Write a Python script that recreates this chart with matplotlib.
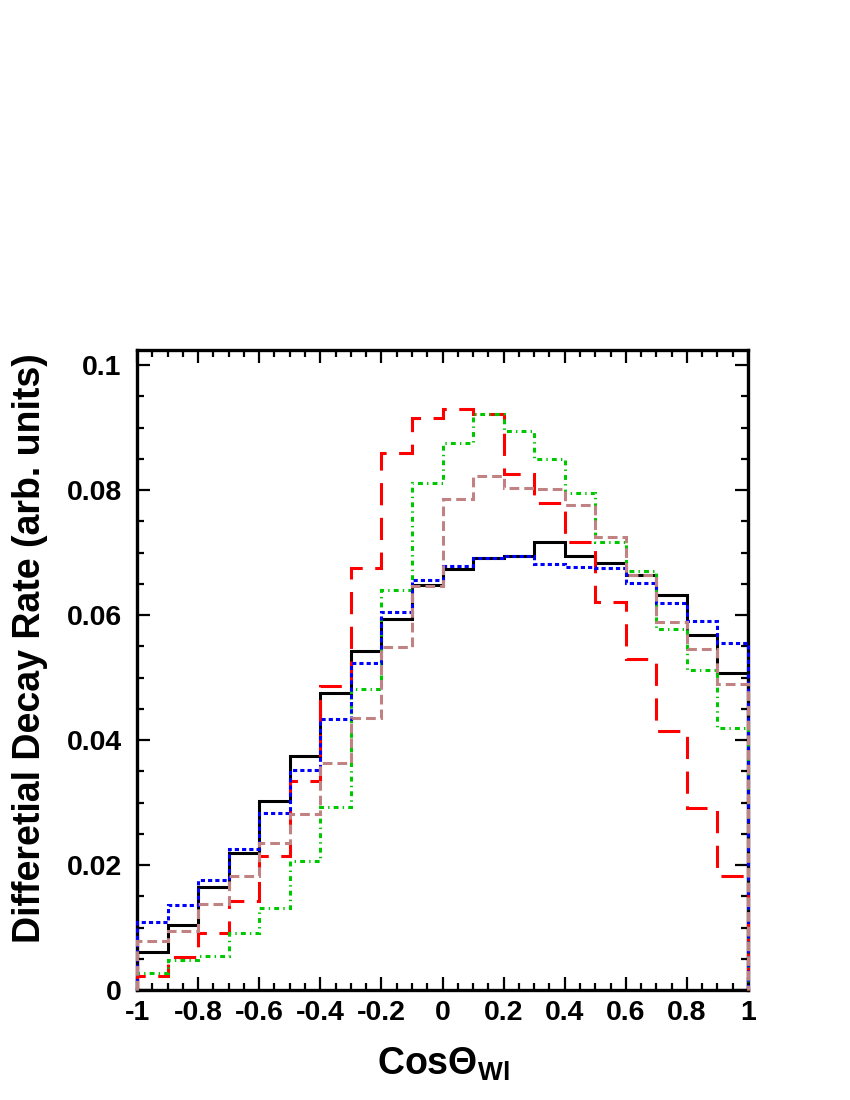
import numpy as np
import matplotlib
matplotlib.use("Agg")
import matplotlib.pyplot as plt
from matplotlib.ticker import MultipleLocator, FuncFormatter

plt.rcParams['font.family'] = ['Liberation Sans', 'DejaVu Sans']
plt.rcParams['font.weight'] = 'bold'
plt.rcParams['axes.unicode_minus'] = False
plt.rcParams['lines.scale_dashes'] = False
plt.rcParams['mathtext.fontset'] = 'custom'
plt.rcParams['mathtext.rm'] = 'Liberation Sans:bold'
plt.rcParams['mathtext.it'] = 'Liberation Sans:bold'
plt.rcParams['mathtext.bf'] = 'Liberation Sans:bold'

# bin edges of cos(theta)
bin_edges = np.linspace(-1.0, 1.0, 21)

black_vals = [0.0061, 0.0104, 0.0165, 0.0219, 0.0302, 0.0374, 0.0475, 0.0543, 0.0593, 0.0648,
              0.0674, 0.0691, 0.0695, 0.0717, 0.0694, 0.0683, 0.0664, 0.0632, 0.0568, 0.0507]
blue_vals = [0.0109, 0.0136, 0.0176, 0.0225, 0.0284, 0.0352, 0.0433, 0.0523, 0.0605, 0.0656,
             0.0679, 0.0691, 0.0695, 0.0681, 0.0677, 0.0675, 0.0651, 0.0620, 0.0591, 0.0555]
red_vals = [0.0022, 0.0053, 0.0092, 0.0142, 0.0215, 0.0335, 0.0486, 0.0676, 0.0859, 0.0915,
            0.0929, 0.0921, 0.0825, 0.0779, 0.0717, 0.0621, 0.0530, 0.0415, 0.0292, 0.0183]
green_vals = [0.0027, 0.0048, 0.0054, 0.0092, 0.0132, 0.0206, 0.0293, 0.0482, 0.0640, 0.0812,
              0.0876, 0.0921, 0.0895, 0.0849, 0.0796, 0.0717, 0.0671, 0.0577, 0.0512, 0.0419]
brown_vals = [0.0078, 0.0095, 0.0138, 0.0182, 0.0236, 0.0281, 0.0364, 0.0436, 0.0549, 0.0647,
              0.0786, 0.0823, 0.0804, 0.0802, 0.0776, 0.0725, 0.0664, 0.0589, 0.0545, 0.0490]

fig = plt.figure(figsize=(8.5, 11), dpi=100)
ax = fig.add_axes([137/850, 1-990/1100, (748-137)/850, (990-350)/1100])

lw = 2.2
common = dict(baseline=0, lw=lw, clip_on=False, zorder=3)
ax.stairs(black_vals, bin_edges, color='black', linestyle='-', **common)
ax.stairs(red_vals, bin_edges, color='#ff0000', linestyle=(0, (16, 9)), **common)
ax.stairs(green_vals, bin_edges, color='#00c800', linestyle=(0, (3.5, 3, 1, 3)), **common)
ax.stairs(blue_vals, bin_edges, color='#0000ff', linestyle=(0, (3, 2.2)), **common)
ax.stairs(brown_vals, bin_edges, color='#c08282', linestyle=(0, (7, 3.6)), **common)

ax.set_xlim(-1, 1)
ax.set_ylim(0, 0.1024)

ax.xaxis.set_major_locator(MultipleLocator(0.2))
ax.xaxis.set_minor_locator(MultipleLocator(0.05))
ax.yaxis.set_major_locator(MultipleLocator(0.02))
ax.yaxis.set_minor_locator(MultipleLocator(0.005))

fmt = FuncFormatter(lambda v, p: ('%g' % round(v, 4)))
ax.xaxis.set_major_formatter(fmt)
ax.yaxis.set_major_formatter(fmt)

ax.tick_params(which='both', direction='in', top=True, right=True, width=1.6)
ax.tick_params(which='major', length=9.5)
ax.tick_params(which='minor', length=5)
ax.tick_params(axis='x', which='major', pad=7, labelsize=20.5)
ax.tick_params(axis='y', which='major', pad=11, labelsize=20.5)
for lab in ax.get_xticklabels() + ax.get_yticklabels():
    lab.set_fontweight('bold')

for s in ax.spines.values():
    s.set_linewidth(2.4)

fig.text(30/850, 1-648/1100, 'Differetial Decay Rate (arb. units)', rotation=90,
         ha='center', va='center', fontsize=27, fontweight='bold')
fig.text(443/850, 1-1075/1100, r'Cos$\Theta_{\rm Wl}$', ha='center', va='baseline',
         fontsize=27, fontweight='bold')

fig.savefig('out.png', dpi=100)
